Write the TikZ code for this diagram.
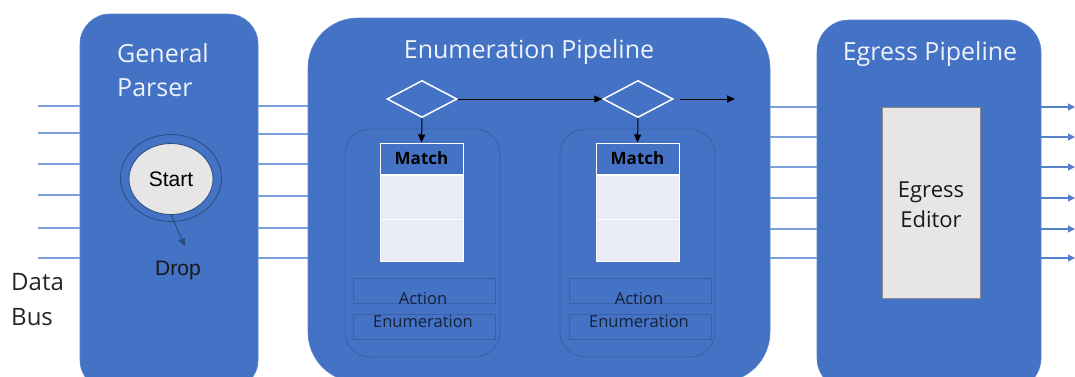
\documentclass[tikz,border=0pt]{standalone}
\usepackage{fontspec}
\setmainfont{Open Sans}
\newfontfamily\arialfont{Liberation Sans}
\usetikzlibrary{shapes.geometric,arrows.meta,calc}

\definecolor{boxblue}{HTML}{4472C4}
\definecolor{boxedge}{HTML}{5B82CA}
\definecolor{busblue}{HTML}{7C9FDD}
\definecolor{inneredge}{HTML}{3A60A8}
\definecolor{palerow}{HTML}{E9ECF4}
\definecolor{greyfill}{HTML}{E6E6E6}
\definecolor{titlewhite}{HTML}{EEF2FA}
\definecolor{ringedge}{HTML}{2B4C7E}
\definecolor{darktext}{HTML}{16213A}

\tikzset{
  stage/.style={draw=boxedge, line width=0.6pt, fill=boxblue, inner sep=0pt, outer sep=0pt},
  stagetitle/.style={text=titlewhite, font=\fontsize{25}{30}\selectfont, inner sep=0pt},
  busline/.style={draw=busblue, line width=1.3pt},
  busout/.style={busline, -{Triangle[length=7pt,width=7pt]}, draw=boxblue!90!white},
  flow/.style={draw=black, line width=1pt, -{Triangle[length=8pt,width=7pt]}},
  decide/.style={diamond, draw=white, line width=1.5pt, inner sep=0pt, minimum width=70pt, minimum height=37pt},
  tablebox/.style={draw=inneredge, line width=0.8pt, rounded corners=25pt, inner sep=0pt, minimum width=155pt, minimum height=228pt},
  matchhead/.style={draw=white, line width=1pt, fill=boxblue, inner sep=0pt, minimum width=83pt, minimum height=31pt, font=\fontsize{17}{20}\selectfont\bfseries, text=black},
  matchrow/.style={draw=white, line width=0.8pt, fill=palerow, inner sep=0pt, minimum width=83pt},
  actbox/.style={draw=inneredge, line width=0.8pt, inner sep=0pt, minimum width=142pt, minimum height=25pt},
  acttext/.style={align=center, text=darktext, font=\fontsize{16.5}{23}\selectfont, inner sep=0pt},
}

\begin{document}
\begin{tikzpicture}[x=1pt,y=-1pt]
\useasboundingbox (0,0) rectangle (1075,376);
\clip (0,0) rectangle (1075,376);

% bus rails, left side and outputs
\foreach \i/\yy in {1/106,2/133,3/164,4/195,5/228,6/258}
  \coordinate (in\i) at (38,\yy);
\foreach \i/\yy in {1/106,2/134,3/164,4/196,5/228,6/258}
  \coordinate (mid\i) at (283,\yy);
\foreach \i/\yy in {1/107,2/137,3/167,4/198,5/229,6/258}
  \coordinate (out\i) at (1075,\yy);

% stage blocks
\node[stage, rounded corners=30pt, minimum width=178pt, minimum height=376pt] (gp) at (169,202) {};
\node[stage, rounded corners=50pt, minimum width=462pt, minimum height=364pt] (ep) at (539,200) {};
\node[stage, rounded corners=32pt, minimum width=224pt, minimum height=370pt] (eg) at (929,205) {};

\foreach \i in {1,...,6} {
  \draw[busline] (in\i) -- (gp.west |- in\i);
  \draw[busline] (gp.east |- mid\i) -- (ep.west |- mid\i);
  \draw[busline] (ep.east |- out\i) -- (eg.west |- out\i);
  \draw[busout] (eg.east |- out\i) -- (out\i);
}

% titles
\node[stagetitle, anchor=base west] (gpt1) at (117,62) {General};
\node[stagetitle, anchor=base west] (gpt2) at (117,96) {Parser};
\node[stagetitle, anchor=base] (ept) at (529,58) {Enumeration Pipeline};
\node[stagetitle, anchor=base] (egt) at (930,60) {Egress Pipeline};

% data bus label
\node[anchor=base west, inner sep=0pt, text=black!85, font=\fontsize{24}{28}\selectfont] (bus1) at (11,290) {Data};
\node[anchor=base west, inner sep=0pt, text=black!85, font=\fontsize{24}{28}\selectfont] (bus2) at (11,325) {Bus};

% parser state
\node[ellipse, draw=ringedge, line width=0.8pt, minimum width=101pt, minimum height=87pt, inner sep=0pt] (ring) at (171,178) {};
\node[ellipse, draw=ringedge, line width=0.8pt, fill=greyfill, minimum width=84pt, minimum height=71pt, inner sep=0pt, font=\arialfont\fontsize{21}{24}\selectfont] (start) at (171,179) {Start};
\node[anchor=base, inner sep=0pt, text=black!90, font=\arialfont\fontsize{21}{24}\selectfont] (drop) at (178,275) {Drop};
\draw[draw=ringedge, line width=1pt, -{Triangle[length=8pt,width=7pt]}] (start.south) -- ([xshift=7pt,yshift=14pt]drop.north);

% enumeration stages
\node[decide] (d1) at (422,99) {};
\node[decide] (d2) at (638,99) {};
\coordinate (epnext) at (735,99);

\node[tablebox] (t1) at (422.5,243) {};
\node[tablebox] (t2) at (637.5,243) {};

\node[matchhead] (m1) at (421.5,158.5) {Match};
\node[matchrow, minimum height=44pt, anchor=north] (m1a) at (m1.south) {};
\node[matchrow, minimum height=42pt, anchor=north] (m1b) at (m1a.south) {};
\node[matchhead] (m2) at (637.5,158.5) {Match};
\node[matchrow, minimum height=44pt, anchor=north] (m2a) at (m2.south) {};
\node[matchrow, minimum height=42pt, anchor=north] (m2b) at (m2a.south) {};

\draw[flow] (d1.east) -- (d2.west);
\draw[flow] ([xshift=6pt]d2.east) -- (epnext);
\draw[flow] (d1.south) -- (m1.north);
\draw[flow] (d2.south) -- (m2.north);

\node[actbox] (a1a) at (424,290.5) {};
\node[actbox] (a1b) at (424,326.5) {};
\node[actbox] (a2a) at (640,290.5) {};
\node[actbox] (a2b) at (640,326.5) {};
\node[acttext, anchor=base] (a1t) at (423,304) {Action};
\node[acttext, anchor=base] (a1u) at (423,327) {Enumeration};
\node[acttext, anchor=base] (a2t) at (639,304) {Action};
\node[acttext, anchor=base] (a2u) at (639,327) {Enumeration};

% egress editor
\node[draw=black!45, line width=0.8pt, fill=greyfill, inner sep=0pt, minimum width=98pt, minimum height=191pt] (ed) at (931,202.5) {};
\node[anchor=base, inner sep=0pt, text=black!90, font=\fontsize{22}{26}\selectfont] (ed1) at (931,197) {Egress};
\node[anchor=base, inner sep=0pt, text=black!90, font=\fontsize{22}{26}\selectfont] (ed2) at (931,227) {Editor};
\end{tikzpicture}
\end{document}
